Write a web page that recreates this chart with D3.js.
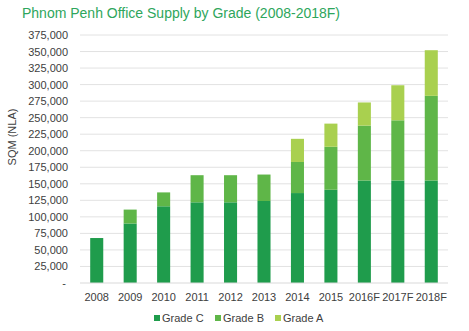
<!DOCTYPE html>
<html>
<head>
<meta charset="utf-8">
<script src="https://cdn.jsdelivr.net/npm/d3@7"></script>
<style>
  html, body { margin: 0; padding: 0; background: #fff; }
  svg { display: block; font-family: "Liberation Sans", Arial, sans-serif; }
</style>
</head>
<body>
<svg id="chart" width="469" height="331"></svg>
<script>
// Office supply (sqm NLA) by grade, per year
const years   = ["2008","2009","2010","2011","2012","2013","2014","2015","2016F","2017F","2018F"];
const gradeC  = [68000, 90000, 116000, 122000, 122000, 124000, 136000, 141000, 155000, 155000, 155000];
const gradeB  = [0, 21000, 21000, 41000, 41000, 40000, 47000, 65000, 83000, 91000, 128000];
const gradeA  = [0, 0, 0, 0, 0, 0, 35000, 35000, 35000, 53000, 69000];
const seriesNames  = ["Grade C", "Grade B", "Grade A"];
const seriesColors = ["#1f9c4c", "#5fb648", "#a9d04f"];
const yTicks = d3.range(0, 375001, 25000);

const svg = d3.select("#chart");
const margin = { left: 80, right: 21, top: 35, bottom: 48 };
const W = 469, H = 331;

const x = d3.scaleBand().domain(years).range([margin.left, W - margin.right])
  .paddingInner(0.61).paddingOuter(0.305);
const y = d3.scaleLinear().domain([0, 375000]).range([H - margin.bottom, margin.top]);

// Title
svg.append("text").attr("x", 22).attr("y", 18)
  .attr("font-size", 14).attr("fill", "#2ea65c")
  .text("Phnom Penh Office Supply by Grade (2008-2018F)");

// Gridlines
svg.append("g").selectAll("line").data(yTicks.slice(1)).join("line")
  .attr("x1", margin.left).attr("x2", W - margin.right)
  .attr("y1", d => y(d)).attr("y2", d => y(d))
  .attr("stroke", "#e2e2e2").attr("stroke-width", 1);

// Y axis
const yAxis = d3.axisLeft(y).tickValues(yTicks).tickSize(0).tickPadding(12)
  .tickFormat(d => d === 0 ? "-" : d3.format(",")(d));
const gy = svg.append("g").attr("transform", `translate(${margin.left},0)`).call(yAxis);
gy.select(".domain").remove();
gy.selectAll("text").attr("font-size", 11).attr("fill", "#404040")
  .attr("font-family", "Liberation Sans, Arial, sans-serif");
gy.selectAll(".tick").filter(d => d === 0).select("text").attr("dx", -2);

// Y axis title
svg.append("text").attr("transform", "translate(16,137) rotate(-90)")
  .attr("text-anchor", "middle").attr("font-size", 11).attr("fill", "#404040")
  .text("SQM (NLA)");

// Stacked bars
const table = years.map((yr, i) => ({ year: yr, c: gradeC[i], b: gradeB[i], a: gradeA[i] }));
const stack = d3.stack().keys(["c", "b", "a"])(table);
svg.append("g").selectAll("g").data(stack).join("g")
  .attr("fill", (d, i) => seriesColors[i])
  .selectAll("rect").data(d => d).join("rect")
  .attr("x", d => x(d.data.year))
  .attr("width", x.bandwidth())
  .attr("y", d => y(d[1]))
  .attr("height", d => y(d[0]) - y(d[1]));

// Baseline
svg.append("line").attr("x1", margin.left).attr("x2", W - margin.right)
  .attr("y1", y(0)).attr("y2", y(0)).attr("stroke", "#d9d9d9");

// X axis
const gx = svg.append("g").attr("transform", `translate(0,${y(0)})`)
  .call(d3.axisBottom(x).tickSize(0).tickPadding(10));
gx.select(".domain").remove();
gx.selectAll("text").attr("font-size", 11).attr("fill", "#404040")
  .attr("font-family", "Liberation Sans, Arial, sans-serif");

// Legend
const legendX = [154, 215, 275];
const lg = svg.append("g").selectAll("g").data(seriesNames).join("g")
  .attr("transform", (d, i) => `translate(${legendX[i]},322)`);
lg.append("rect").attr("x", 0).attr("y", -7).attr("width", 6).attr("height", 6)
  .attr("fill", (d, i) => seriesColors[i]);
lg.append("text").attr("x", 8).attr("y", 0).attr("font-size", 11).attr("fill", "#404040")
  .text(d => d);
</script>
</body>
</html>
